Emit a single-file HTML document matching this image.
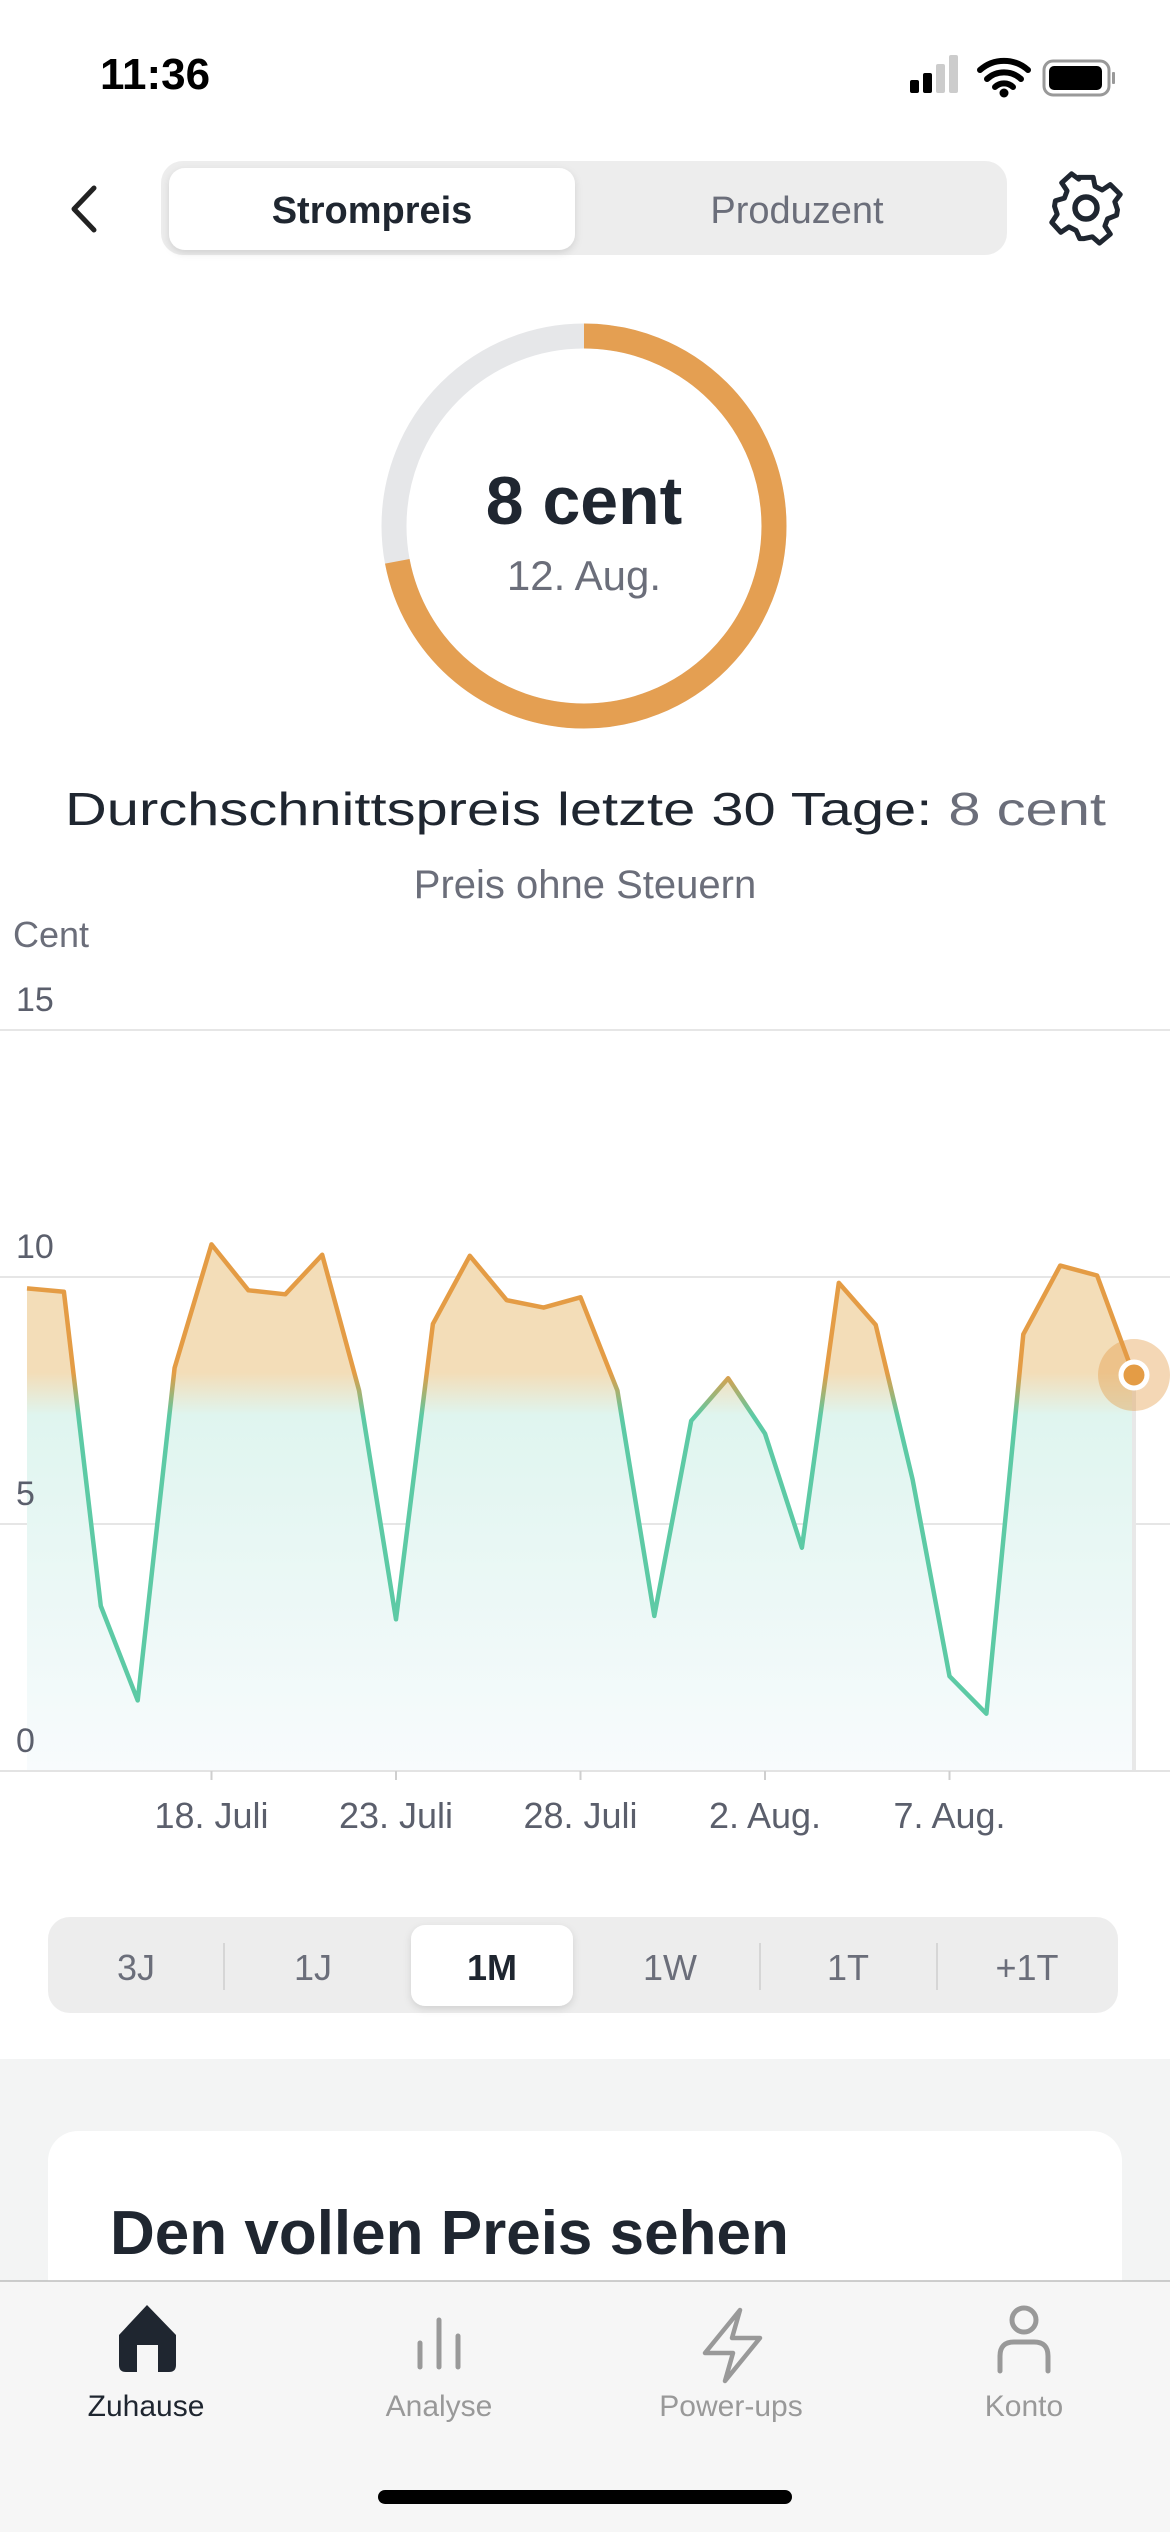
<!DOCTYPE html>
<html><head><meta charset="utf-8"><style>
html,body{margin:0;padding:0;background:#fff;}
svg{display:block;font-family:"Liberation Sans",sans-serif;}
</style></head><body>
<svg width="1170" height="2532" viewBox="0 0 1170 2532" xmlns="http://www.w3.org/2000/svg">
<defs>
<linearGradient id="stk" gradientUnits="userSpaceOnUse" x1="0" y1="1240" x2="0" y2="1771">
<stop offset="0" stop-color="#E49C45"/>
<stop offset="0.25" stop-color="#E49C45"/>
<stop offset="0.33" stop-color="#5DCAA5"/>
<stop offset="1" stop-color="#5DCAA5"/>
</linearGradient>
<linearGradient id="fil" gradientUnits="userSpaceOnUse" x1="0" y1="1240" x2="0" y2="1771">
<stop offset="0" stop-color="#F3DDB8"/>
<stop offset="0.25" stop-color="#F3DDB8"/>
<stop offset="0.33" stop-color="#DFF5EF"/>
<stop offset="1" stop-color="#F8FBFD"/>
</linearGradient>
<filter id="sh" x="-10%" y="-30%" width="120%" height="160%"><feDropShadow dx="0" dy="3" stdDeviation="4" flood-color="#000" flood-opacity="0.12"/></filter>
</defs>

<!-- status bar -->
<text x="100" y="89" font-size="44" font-weight="bold" fill="#000">11:36</text>
<g transform="translate(0,-10)">
<rect x="910" y="90" width="9" height="13" rx="2" fill="#000"/>
<rect x="923" y="83" width="9" height="20" rx="2" fill="#000"/>
<rect x="936" y="74" width="9" height="29" rx="2" fill="#ccc"/>
<rect x="949" y="65" width="9" height="38" rx="2" fill="#ccc"/>
<path d="M980 80 a36 36 0 0 1 48 0 M987 89 a25 25 0 0 1 34 0 M995 97 a13 13 0 0 1 18 0" stroke="#000" stroke-width="6" fill="none" stroke-linecap="round"/>
<circle cx="1004" cy="103" r="4.5" fill="#000"/>
<rect x="1044" y="71" width="65" height="34" rx="9" fill="none" stroke="#999" stroke-width="3"/>
<rect x="1049" y="76" width="53" height="24" rx="5" fill="#000"/>
<rect x="1112" y="82" width="3" height="12" rx="1" fill="#999"/>
</g>

<!-- header -->
<path d="M94 188 L74 209 L94 230" stroke="#222" stroke-width="5" fill="none" stroke-linecap="round" stroke-linejoin="round"/>
<rect x="161" y="161" width="846" height="94" rx="22" fill="#EDEDED"/>
<rect x="169" y="168" width="406" height="82" rx="16" fill="#fff" filter="url(#sh)"/>
<text x="372" y="223" font-size="38" font-weight="bold" fill="#1F2630" text-anchor="middle">Strompreis</text>
<text x="797" y="223" font-size="38" fill="#6B6E7A" text-anchor="middle">Produzent</text>
<g transform="translate(1086,208)" fill="none" stroke="#1F2630" stroke-width="5.5" stroke-linejoin="round">
<path d="M-8,-34 L8,-34 L10,-24 L18,-20 L27,-26 L38,-15 L32,-7 L35,2 L34,8 L24,12 L21,20 L27,29 L15,39 L7,32 L-2,34 L-7,34 L-11,25 L-19,21 L-28,27 L-38,16 L-32,7 L-35,-2 L-34,-8 L-24,-11 L-21,-19 L-27,-28 L-16,-38 L-8,-32 Z" transform="scale(0.9)"/>
<circle r="11"/>
</g>

<!-- ring -->
<circle cx="584" cy="526" r="190" fill="none" stroke="#E6E7E9" stroke-width="25"/>
<circle cx="584" cy="526" r="190" fill="none" stroke="#E49F52" stroke-width="25" stroke-dasharray="859.5 1193.8" transform="rotate(-90 584 526)"/>
<text x="584" y="524" font-size="68" font-weight="bold" fill="#1F2630" text-anchor="middle">8 cent</text>
<text x="584" y="590" font-size="42" fill="#6B6E7A" text-anchor="middle">12. Aug.</text>

<text x="65" y="825" font-size="46" fill="#1F2630" textLength="1041" lengthAdjust="spacingAndGlyphs">Durchschnittspreis letzte 30 Tage: <tspan fill="#6B6E7A">8 cent</tspan></text>
<text x="585" y="898" font-size="40" fill="#6B6E7A" text-anchor="middle">Preis ohne Steuern</text>
<text x="13" y="947" font-size="36" fill="#6B6E7A">Cent</text>

<!-- chart -->
<g stroke="#E6E6E6" stroke-width="2">
<line x1="0" y1="1030" x2="1170" y2="1030"/>
<line x1="0" y1="1277" x2="1170" y2="1277"/>
<line x1="0" y1="1524" x2="1170" y2="1524"/>
</g>
<path d="M27,1771 L27,1288.4 L63.9,1291.8 L100.8,1606 L137.7,1700.4 L174.6,1367.9 L211.5,1244.4 L248.4,1290.3 L285.3,1294.3 L322.2,1254.8 L359.1,1390.6 L396,1619.3 L432.9,1323.9 L469.8,1255.8 L506.7,1300.2 L543.6,1307.6 L580.5,1297.3 L617.4,1390.6 L654.3,1615.9 L691.2,1420.8 L728.1,1378.3 L765,1433.6 L801.9,1547.7 L838.8,1282.9 L875.7,1324.9 L912.6,1479.5 L949.5,1676.2 L986.4,1713.7 L1023.3,1334.3 L1060.2,1265.6 L1097.1,1275.5 L1134,1375.8 L1134,1771 Z" fill="url(#fil)"/>
<g font-size="34" fill="#5B5F6C">
<text x="16" y="1011">15</text>
<text x="16" y="1258">10</text>
<text x="16" y="1505">5</text>
<text x="16" y="1752">0</text>
</g>
<line x1="1134" y1="1375" x2="1134" y2="1771" stroke="#E8E8E8" stroke-width="4"/>
<polyline points="27,1288.4 63.9,1291.8 100.8,1606 137.7,1700.4 174.6,1367.9 211.5,1244.4 248.4,1290.3 285.3,1294.3 322.2,1254.8 359.1,1390.6 396,1619.3 432.9,1323.9 469.8,1255.8 506.7,1300.2 543.6,1307.6 580.5,1297.3 617.4,1390.6 654.3,1615.9 691.2,1420.8 728.1,1378.3 765,1433.6 801.9,1547.7 838.8,1282.9 875.7,1324.9 912.6,1479.5 949.5,1676.2 986.4,1713.7 1023.3,1334.3 1060.2,1265.6 1097.1,1275.5 1134,1375.8" fill="none" stroke="url(#stk)" stroke-width="4.5" stroke-linejoin="round"/>
<line x1="0" y1="1771" x2="1170" y2="1771" stroke="#E3E3E3" stroke-width="2"/>
<circle cx="1134" cy="1375" r="36" fill="#E49C45" fill-opacity="0.4"/>
<circle cx="1134" cy="1375" r="13" fill="#E49C45" stroke="#fff" stroke-width="5"/>
<g stroke="#CFCFCF" stroke-width="2">
<line x1="211.5" y1="1771" x2="211.5" y2="1780"/>
<line x1="396" y1="1771" x2="396" y2="1780"/>
<line x1="580.5" y1="1771" x2="580.5" y2="1780"/>
<line x1="765" y1="1771" x2="765" y2="1780"/>
<line x1="949.5" y1="1771" x2="949.5" y2="1780"/>
</g>
<g font-size="36" fill="#5B5F6C" text-anchor="middle">
<text x="211.5" y="1828">18. Juli</text>
<text x="396" y="1828">23. Juli</text>
<text x="580.5" y="1828">28. Juli</text>
<text x="765" y="1828">2. Aug.</text>
<text x="949.5" y="1828">7. Aug.</text>
</g>

<!-- range selector -->
<rect x="48" y="1917" width="1070" height="96" rx="22" fill="#EDEDED"/>
<rect x="411" y="1925" width="162" height="81" rx="14" fill="#fff" filter="url(#sh)"/>
<g stroke="#D6D6D6" stroke-width="2">
<line x1="224" y1="1943" x2="224" y2="1990"/>
<line x1="760" y1="1943" x2="760" y2="1990"/>
<line x1="937" y1="1943" x2="937" y2="1990"/>
</g>
<g font-size="36" fill="#6B6E7A" text-anchor="middle">
<text x="136" y="1980">3J</text>
<text x="313" y="1980">1J</text>
<text x="492" y="1980" font-weight="bold" fill="#1F2630">1M</text>
<text x="670" y="1980">1W</text>
<text x="848" y="1980">1T</text>
<text x="1027" y="1980">+1T</text>
</g>

<!-- lower section -->
<rect x="0" y="2059" width="1170" height="473" fill="#F3F4F4"/>
<rect x="48" y="2131" width="1074" height="300" rx="30" fill="#fff"/>
<text x="110" y="2254" font-size="62" font-weight="bold" fill="#1F2630">Den vollen Preis sehen</text>

<!-- tab bar -->
<rect x="0" y="2281" width="1170" height="251" fill="#F6F6F6"/>
<line x1="0" y1="2281" x2="1170" y2="2281" stroke="#BDBDBD" stroke-width="1.5"/>
<path d="M147 2305 L176 2335 L176 2365 Q176 2372 169 2372 L158 2372 L158 2345 L137 2345 L137 2372 L126 2372 Q119 2372 119 2365 L119 2335 Z" fill="#1F2630"/>
<g stroke="#999" stroke-width="5" stroke-linecap="round">
<line x1="420" y1="2343" x2="420" y2="2367"/>
<line x1="439" y1="2320" x2="439" y2="2367"/>
<line x1="458" y1="2336" x2="458" y2="2367"/>
</g>
<path d="M740 2310 L705 2353 L733 2353 L725 2381 L760 2338 L732 2338 Z" fill="none" stroke="#999" stroke-width="4.5" stroke-linejoin="round"/>
<circle cx="1024" cy="2320" r="12" fill="none" stroke="#999" stroke-width="5"/>
<path d="M1000 2371 L1000 2356 Q1000 2342 1014 2342 L1034 2342 Q1048 2342 1048 2356 L1048 2371" fill="none" stroke="#999" stroke-width="5" stroke-linecap="round"/>
<g font-size="30" text-anchor="middle" fill="#999">
<text x="146" y="2416" fill="#1F2630">Zuhause</text>
<text x="439" y="2416">Analyse</text>
<text x="731" y="2416">Power-ups</text>
<text x="1024" y="2416">Konto</text>
</g>
<rect x="378" y="2490" width="414" height="14" rx="7" fill="#000"/>
</svg>
</body></html>
